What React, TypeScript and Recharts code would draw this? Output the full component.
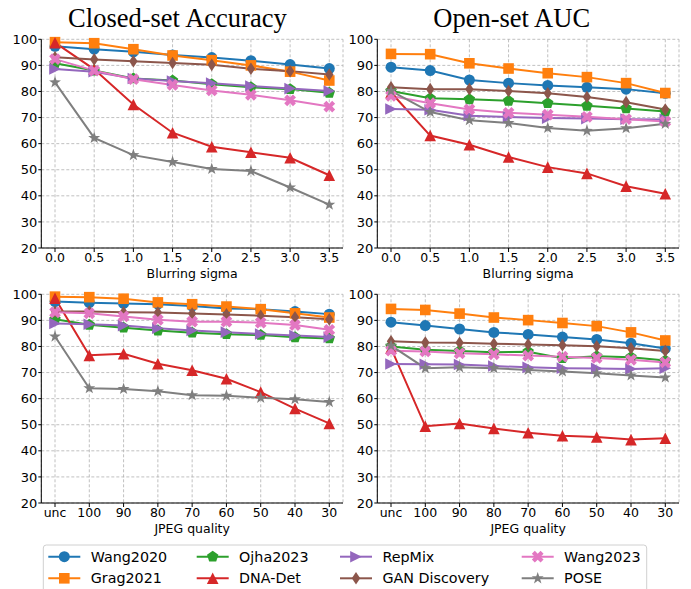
import React from 'react'
import { LineChart, Line, XAxis, YAxis, CartesianGrid } from 'recharts'

const methods = ['Wang2020', 'Grag2021', 'Ojha2023', 'DNA-Det', 'RepMix', 'GAN Discovery', 'Wang2023', 'POSE']
const colors = ['#1f77b4', '#ff7f0e', '#2ca02c', '#d62728', '#9467bd', '#8c564b', '#e377c2', '#7f7f7f']
const markers = ['circle', 'square', 'pentagon', 'triangleUp', 'triangleRight', 'thinDiamond', 'filledX', 'star']

const blurSigma = [0, 0.5, 1, 1.5, 2, 2.5, 3, 3.5]
const jpegQuality = ['unc', '100', '90', '80', '70', '60', '50', '40', '30']
const yTicks = [20, 30, 40, 50, 60, 70, 80, 90, 100]

// one row per method, same order as `methods`
const closedBlur = [
  [97.3, 96.2, 95.2, 94.0, 93.0, 91.8, 90.3, 88.8],
  [98.9, 98.5, 96.2, 93.8, 92.0, 90.0, 87.6, 84.2],
  [90.8, 88.0, 85.0, 84.2, 82.8, 81.6, 80.9, 79.5],
  [98.7, 88.5, 75.0, 64.2, 58.8, 56.7, 54.6, 47.9],
  [88.6, 87.6, 85.0, 84.0, 83.2, 82.1, 81.1, 80.2],
  [93.1, 92.3, 91.6, 90.9, 90.2, 88.7, 87.8, 86.5],
  [92.4, 88.0, 84.7, 82.5, 80.4, 78.7, 76.6, 74.2],
  [83.5, 62.2, 55.6, 53.0, 50.3, 49.5, 43.2, 36.6],
]

const openBlur = [
  [89.3, 88.0, 84.4, 83.2, 82.3, 81.6, 80.9, 79.3],
  [94.4, 94.3, 90.8, 88.8, 87.0, 85.5, 83.2, 79.4],
  [80.2, 77.4, 77.0, 76.4, 75.5, 74.5, 73.5, 72.3],
  [79.6, 63.1, 59.6, 54.9, 51.0, 48.6, 43.7, 40.8],
  [73.3, 73.0, 70.7, 70.2, 69.8, 69.6, 69.4, 69.3],
  [81.6, 80.9, 80.9, 80.2, 79.3, 77.9, 75.9, 73.1],
  [78.3, 75.5, 73.1, 71.8, 71.1, 70.3, 69.4, 68.5],
  [80.2, 72.1, 69.0, 67.9, 66.0, 64.9, 65.9, 67.6],
]

const closedJpeg = [
  [97.2, 96.8, 96.5, 96.2, 95.5, 94.6, 94.3, 93.4, 92.4],
  [99.1, 98.9, 98.3, 96.9, 96.2, 95.3, 94.3, 92.7, 91.1],
  [90.4, 88.3, 87.2, 86.1, 85.3, 84.7, 84.4, 83.5, 83.1],
  [98.5, 76.6, 77.2, 73.4, 70.9, 67.6, 62.5, 56.2, 50.5],
  [88.8, 88.5, 88.0, 87.0, 86.1, 85.5, 84.8, 84.2, 83.6],
  [93.4, 93.4, 93.1, 93.0, 92.6, 92.3, 91.8, 91.2, 90.4],
  [93.1, 92.7, 91.5, 90.2, 89.5, 89.5, 89.1, 88.2, 86.4],
  [83.8, 64.0, 63.7, 62.8, 61.3, 61.1, 60.3, 59.8, 58.7],
]

const openJpeg = [
  [89.3, 88.0, 86.7, 85.4, 84.6, 83.6, 82.7, 81.2, 79.2],
  [94.4, 94.0, 92.6, 91.1, 90.1, 89.0, 87.8, 85.4, 82.3],
  [80.0, 78.7, 78.3, 77.8, 78.0, 75.5, 76.3, 75.9, 74.6],
  [79.4, 49.4, 50.5, 48.6, 46.9, 45.8, 45.3, 44.3, 44.8],
  [73.3, 73.2, 73.1, 72.5, 72.0, 71.7, 71.6, 71.4, 71.7],
  [82.0, 81.5, 81.4, 81.0, 80.8, 80.5, 80.1, 79.3, 78.3],
  [78.4, 78.1, 77.4, 77.0, 76.5, 76.1, 75.6, 74.9, 73.9],
  [80.3, 71.7, 72.0, 71.7, 71.0, 70.4, 69.7, 68.9, 68.1],
]

const FONT = "'DejaVu Sans', sans-serif"

function polyPoints(kind: string, cx: number, cy: number) {
  let pts: number[][] = []
  if (kind === 'pentagon') {
    for (let i = 0; i < 5; i++) {
      const a = -Math.PI / 2 + (i * 2 * Math.PI) / 5
      pts.push([6 * Math.cos(a), 6 * Math.sin(a)])
    }
  } else if (kind === 'triangleUp') {
    pts = [[0, -5.8], [-5.8, 5.8], [5.8, 5.8]]
  } else if (kind === 'triangleRight') {
    pts = [[5.8, 0], [-5.8, -5.8], [-5.8, 5.8]]
  } else if (kind === 'thinDiamond') {
    pts = [[0, -6.3], [4.2, 0], [0, 6.3], [-4.2, 0]]
  } else if (kind === 'star') {
    for (let i = 0; i < 10; i++) {
      const a = -Math.PI / 2 + (i * Math.PI) / 5
      const r = i % 2 === 0 ? 6.3 : 2.5
      pts.push([r * Math.cos(a), r * Math.sin(a)])
    }
  } else if (kind === 'filledX') {
    const h = 6.2, w = 2.1
    const plus = [[w, h], [w, w], [h, w], [h, -w], [w, -w], [w, -h], [-w, -h], [-w, -w], [-h, -w], [-h, w], [-w, w], [-w, h]]
    const c = Math.SQRT1_2
    pts = plus.map(([x, y]) => [x * c - y * c, x * c + y * c])
  }
  return pts.map(([x, y]) => `${cx + x},${cy + y}`).join(' ')
}

function Marker({ cx, cy, kind, color }: { cx: number; cy: number; kind: string; color: string }) {
  if (cx == null || cy == null) return null
  if (kind === 'circle') return <circle cx={cx} cy={cy} r={5.5} fill={color} />
  if (kind === 'square') return <rect x={cx - 5.3} y={cy - 5.3} width={10.6} height={10.6} fill={color} />
  return <polygon points={polyPoints(kind, cx, cy)} fill={color} />
}

const tickStyle = { fontSize: 12.5, fontFamily: FONT, fill: '#000' }

function Panel({ values, xs, ticks, domain, fmt, xlabel }: any) {
  const data = xs.map((x: number, i: number) => {
    const row: Record<string, number> = { x }
    methods.forEach((_, k) => { row['s' + k] = values[k][i] })
    return row
  })
  return (
    <LineChart width={345} height={285} data={data} margin={{ top: 39.3, right: 2, bottom: 0, left: 0 }}>
      <CartesianGrid stroke="#b0b0b0" strokeDasharray="3 2" strokeWidth={0.8} />
      <XAxis
        dataKey="x" type="number" domain={domain} ticks={ticks} tickFormatter={fmt} interval={0}
        allowDataOverflow height={37} tickSize={4} tickMargin={1.5} stroke="#000" tick={tickStyle}
        label={{ value: xlabel, position: 'insideBottom', offset: 7, style: { fontSize: 12.5, fontFamily: FONT, fill: '#000' } }}
      />
      <XAxis xAxisId="top" orientation="top" dataKey="x" type="number" domain={domain} allowDataOverflow
        height={0} tick={false} tickLine={false} stroke="#000" />
      <YAxis type="number" domain={[20, 100]} ticks={yTicks} interval={0} width={41.3}
        tickSize={3} tickMargin={1} stroke="#000" tick={{ ...tickStyle, fontSize: 13 }} />
      <YAxis yAxisId="right" orientation="right" type="number" domain={[20, 100]} width={0}
        tick={false} tickLine={false} stroke="#000" />
      {methods.map((m, k) => (
        <Line
          key={m} dataKey={'s' + k} name={m} stroke={colors[k]} strokeWidth={2}
          isAnimationActive={false}
          dot={(p: any) => <Marker key={p.index} cx={p.cx} cy={p.cy} kind={markers[k]} color={colors[k]} />}
          activeDot={false}
        />
      ))}
    </LineChart>
  )
}

const blurFmt = (v: number) => v.toFixed(1)
const jpegFmt = (v: number) => jpegQuality[v]
const jpegIdx = jpegQuality.map((_, i) => i)

const legendCols = [48.3, 196.7, 340, 521.7]
const legendRows = [556.7, 578.3]

export default function App() {
  return (
    <div style={{ position: 'absolute', left: 0, top: 0, width: 691, height: 589, background: '#fff', overflow: 'hidden' }}>
      <div style={{ position: 'absolute', left: 0, top: 0 }}>
        <Panel values={closedBlur} xs={blurSigma} ticks={blurSigma} domain={[-0.175, 3.675]} fmt={blurFmt} xlabel="Blurring sigma" />
      </div>
      <div style={{ position: 'absolute', left: 336, top: 0 }}>
        <Panel values={openBlur} xs={blurSigma} ticks={blurSigma} domain={[-0.175, 3.675]} fmt={blurFmt} xlabel="Blurring sigma" />
      </div>
      <div style={{ position: 'absolute', left: 0, top: 255 }}>
        <Panel values={closedJpeg} xs={jpegIdx} ticks={jpegIdx} domain={[-0.4, 8.4]} fmt={jpegFmt} xlabel="JPEG quality" />
      </div>
      <div style={{ position: 'absolute', left: 336, top: 255 }}>
        <Panel values={openJpeg} xs={jpegIdx} ticks={jpegIdx} domain={[-0.4, 8.4]} fmt={jpegFmt} xlabel="JPEG quality" />
      </div>
      <svg width={691} height={589} style={{ position: 'absolute', left: 0, top: 0, pointerEvents: 'none' }}>
        <text x={177.4} y={26.7} textAnchor="middle" fontFamily="'Liberation Serif', serif" fontSize={26.5}>Closed-set Accuracy</text>
        <text x={511.7} y={26.7} textAnchor="middle" fontFamily="'Liberation Serif', serif" fontSize={26.5}>Open-set AUC</text>
        <rect x={43.3} y={545} width={603.4} height={60} rx={3} fill="#fff" stroke="#d0d0d0" strokeWidth={1} />
        {methods.map((m, k) => {
          const x = legendCols[Math.floor(k / 2)]
          const y = legendRows[k % 2]
          return (
            <g key={m}>
              <line x1={x} y1={y} x2={x + 32} y2={y} stroke={colors[k]} strokeWidth={2} />
              <Marker cx={x + 16} cy={y} kind={markers[k]} color={colors[k]} />
              <text x={x + 42.4} y={y} dominantBaseline="central" fontFamily={FONT} fontSize={14.3} fill="#000">{m}</text>
            </g>
          )
        })}
      </svg>
    </div>
  )
}
